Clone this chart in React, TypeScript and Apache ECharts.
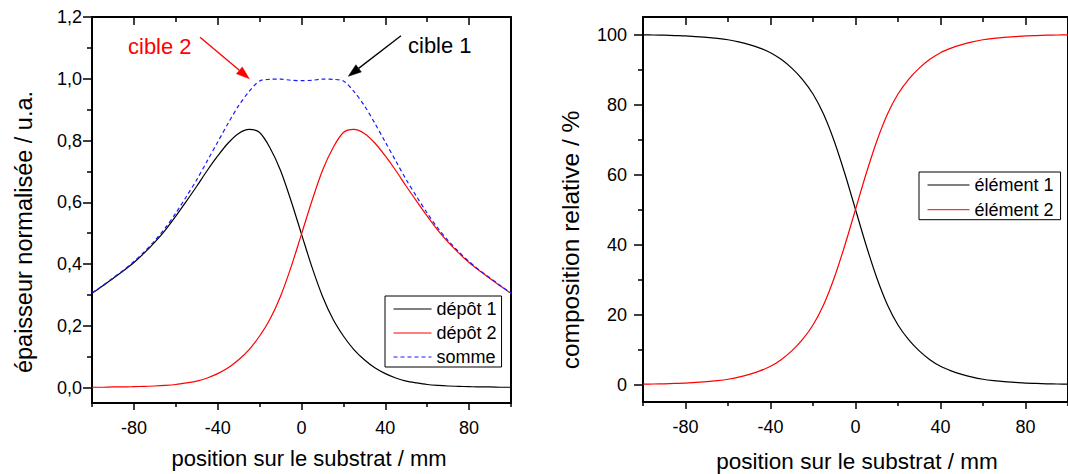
import React, { useEffect, useRef } from "react";
import * as echarts from "echarts";

// ---------- data ----------
const positions = [
  -100, -95, -90, -85, -80, -75, -70, -65, -60, -55, -50, -45, -40, -35, -30, -25, -20, -15, -10, -5,
  0, 5, 10, 15, 20, 25, 30, 35, 40, 45, 50, 55, 60, 65, 70, 75, 80, 85, 90, 95, 100,
];

const depot1 = [
  0.305, 0.329, 0.353, 0.378, 0.405, 0.436, 0.471, 0.51, 0.555, 0.603, 0.652, 0.703, 0.75, 0.792, 0.823, 0.836, 0.826, 0.776, 0.703, 0.605,
  0.497, 0.39, 0.296, 0.222, 0.167, 0.123, 0.09, 0.064, 0.045, 0.031, 0.021, 0.015, 0.01, 0.007, 0.005, 0.004, 0.003, 0.002, 0.002, 0.001, 0.001,
];

const depot2 = [
  0.001, 0.001, 0.002, 0.002, 0.003, 0.004, 0.005, 0.007, 0.01, 0.015, 0.021, 0.031, 0.045, 0.064, 0.09, 0.123, 0.167, 0.222, 0.296, 0.39,
  0.497, 0.605, 0.703, 0.776, 0.826, 0.836, 0.823, 0.792, 0.75, 0.703, 0.652, 0.603, 0.555, 0.51, 0.471, 0.436, 0.405, 0.378, 0.353, 0.329, 0.305,
];

const somme = [
  0.306, 0.33, 0.355, 0.38, 0.408, 0.44, 0.476, 0.517, 0.565, 0.618, 0.673, 0.734, 0.795, 0.856, 0.913, 0.959, 0.993, 0.998, 0.999, 0.995,
  0.994, 0.995, 0.999, 0.998, 0.993, 0.959, 0.913, 0.856, 0.795, 0.734, 0.673, 0.618, 0.565, 0.517, 0.476, 0.44, 0.408, 0.38, 0.355, 0.33, 0.306,
];

const element1 = [
  99.9, 99.85, 99.8, 99.7, 99.6, 99.4, 99.2, 98.9, 98.5, 97.9, 97.1, 96.1, 94.8, 92.9, 90.4, 87.2, 83.0, 77.2, 69.5, 60.2,
  50.0, 39.8, 30.5, 22.8, 17.0, 12.8, 9.6, 7.1, 5.2, 3.9, 2.9, 2.1, 1.5, 1.1, 0.8, 0.6, 0.4, 0.3, 0.2, 0.15, 0.1,
];

const element2 = [
  0.1, 0.15, 0.2, 0.3, 0.4, 0.6, 0.8, 1.1, 1.5, 2.1, 2.9, 3.9, 5.2, 7.1, 9.6, 12.8, 17.0, 22.8, 30.5, 39.8,
  50.0, 60.2, 69.5, 77.2, 83.0, 87.2, 90.4, 92.9, 94.8, 96.1, 97.1, 97.9, 98.5, 98.9, 99.2, 99.4, 99.6, 99.7, 99.8, 99.85, 99.9,
];

const xMajorTicks = [-80, -40, 0, 40, 80];
const xMinorTicks = [-100, -60, -20, 20, 60, 100];
const yLeftMajorTicks = [0, 0.2, 0.4, 0.6, 0.8, 1.0, 1.2];
const yLeftMinorTicks = [0.1, 0.3, 0.5, 0.7, 0.9, 1.1];
const yRightMajorTicks = [0, 20, 40, 60, 80, 100];
const yRightMinorTicks = [10, 30, 50, 70, 90];

const FONT = '"Liberation Sans", Arial, sans-serif';

function pairs(ys: number[]) {
  return positions.map((x, i) => [x, ys[i]]);
}

function arrow(x1: number, y1: number, x2: number, y2: number, color: string) {
  const dx = x2 - x1;
  const dy = y2 - y1;
  const len = Math.sqrt(dx * dx + dy * dy);
  const ux = dx / len;
  const uy = dy / len;
  const hl = 13;
  const hw = 4.5;
  const bx = x2 - ux * hl;
  const by = y2 - uy * hl;
  return [
    {
      type: "line",
      shape: { x1, y1, x2: bx, y2: by },
      style: { stroke: color, lineWidth: 1.3 },
      silent: true,
    },
    {
      type: "polygon",
      shape: {
        points: [
          [x2, y2],
          [bx - uy * hw, by + ux * hw],
          [bx + uy * hw, by - ux * hw],
        ],
      },
      style: { fill: color, stroke: color, lineWidth: 0.5 },
      silent: true,
    },
  ];
}

const frameLine = { show: true, onZero: false, lineStyle: { color: "#000", width: 2 } };
const noLine = { show: false, onZero: false };
const tickStyle = { color: "#000", width: 1.5 };

function xAxes(gridIndex: number) {
  return [
    {
      gridIndex, type: "value", position: "bottom", min: -100, max: 100,
      axisLine: frameLine,
      axisTick: { show: true, customValues: xMajorTicks, length: 7, lineStyle: tickStyle },
      axisLabel: { show: true, customValues: xMajorTicks, fontSize: 18, fontFamily: FONT, color: "#000", margin: 16 },
      splitLine: { show: false },
    },
    {
      gridIndex, type: "value", position: "bottom", min: -100, max: 100,
      axisLine: noLine,
      axisTick: { show: true, customValues: xMinorTicks, length: 4, lineStyle: tickStyle },
      axisLabel: { show: false },
      splitLine: { show: false },
    },
    {
      gridIndex, type: "value", position: "top", min: -100, max: 100,
      axisLine: frameLine,
      axisTick: { show: true, inside: true, customValues: xMajorTicks, length: 8, lineStyle: tickStyle },
      axisLabel: { show: false },
      splitLine: { show: false },
    },
    {
      gridIndex, type: "value", position: "top", min: -100, max: 100,
      axisLine: noLine,
      axisTick: { show: true, inside: true, customValues: xMinorTicks, length: 5, lineStyle: tickStyle },
      axisLabel: { show: false },
      splitLine: { show: false },
    },
  ];
}

function yAxes(gridIndex: number, min: number, max: number, major: number[], minor: number[], margin: number, fmt: (v: number) => string) {
  return [
    {
      gridIndex, type: "value", position: "left", min, max,
      axisLine: frameLine,
      axisTick: { show: true, customValues: major, length: 9, lineStyle: tickStyle },
      axisLabel: { show: true, customValues: major, fontSize: 18, fontFamily: FONT, color: "#000", margin, formatter: fmt },
      splitLine: { show: false },
    },
    {
      gridIndex, type: "value", position: "left", min, max,
      axisLine: noLine,
      axisTick: { show: true, customValues: minor, length: 5, lineStyle: tickStyle },
      axisLabel: { show: false },
      splitLine: { show: false },
    },
    {
      gridIndex, type: "value", position: "right", min, max,
      axisLine: frameLine,
      axisTick: { show: false },
      axisLabel: { show: false },
      splitLine: { show: false },
    },
  ];
}

export default function App() {
  const ref = useRef<HTMLDivElement>(null);

  useEffect(() => {
    if (!ref.current) return;
    const chart = echarts.init(ref.current, undefined, { renderer: "svg" });

    const lineSeries = (name: string, data: number[], color: string, xi: number, yi: number, type: any = "solid") => ({
      name,
      type: "line",
      xAxisIndex: xi,
      yAxisIndex: yi,
      data: pairs(data),
      smooth: 0.3,
      symbol: "none",
      showSymbol: false,
      lineStyle: { color, width: 1.2, type },
      itemStyle: { color },
      z: 3,
    });

    const legendText = { fontSize: 18, fontFamily: FONT, color: "#000", lineHeight: 20 };

    chart.setOption({
      animation: false,
      backgroundColor: "#fff",
      textStyle: { fontFamily: FONT },
      grid: [
        { left: 92, top: 17, width: 419, height: 386 },
        { left: 643, top: 17, width: 429, height: 385 },
      ],
      xAxis: [...xAxes(0), ...xAxes(1)],
      yAxis: [
        ...yAxes(0, -0.05, 1.2, yLeftMajorTicks, yLeftMinorTicks, 10, (v: number) => v.toFixed(1).replace(".", ",")),
        ...yAxes(1, -5, 105, yRightMajorTicks, yRightMinorTicks, 16, (v: number) => String(Math.round(v))),
      ],
      legend: [
        {
          data: ["dépôt 1", "dépôt 2", "somme"],
          orient: "vertical",
          left: 385,
          top: 296,
          itemWidth: 38,
          itemHeight: 14,
          itemGap: 4,
          padding: [3, 5, 0, 8],
          borderColor: "#000",
          borderWidth: 1,
          backgroundColor: "#fff",
          selectedMode: false,
          itemStyle: { opacity: 0 },
          lineStyle: { width: 1 },
          textStyle: legendText,
        },
        {
          data: ["élément 1", "élément 2"],
          orient: "vertical",
          left: 919,
          top: 172,
          itemWidth: 42,
          itemHeight: 14,
          itemGap: 4.7,
          padding: [3, 7, 0, 8],
          borderColor: "#000",
          borderWidth: 1,
          backgroundColor: "#fff",
          selectedMode: false,
          itemStyle: { opacity: 0 },
          lineStyle: { width: 1 },
          textStyle: legendText,
        },
      ],
      series: [
        lineSeries("dépôt 1", depot1, "#000000", 0, 0),
        lineSeries("dépôt 2", depot2, "#ff0000", 0, 0),
        lineSeries("somme", somme, "#1a1aff", 0, 0, [4, 3]),
        lineSeries("élément 1", element1, "#000000", 4, 3),
        lineSeries("élément 2", element2, "#ff0000", 4, 3),
      ],
      graphic: [
        {
          type: "text", x: 309, y: 458, silent: true,
          style: { text: "position sur le substrat / mm", fontSize: 22, fontFamily: FONT, fill: "#000", align: "center", verticalAlign: "middle" },
        },
        {
          type: "text", x: 857, y: 461.5, silent: true,
          style: { text: "position sur le substrat / mm", fontSize: 22.5, fontFamily: FONT, fill: "#000", align: "center", verticalAlign: "middle" },
        },
        {
          type: "text", x: 24, y: 232, rotation: Math.PI / 2, silent: true,
          style: { text: "épaisseur normalisée / u.a.", fontSize: 23.5, fontFamily: FONT, fill: "#000", align: "center", verticalAlign: "middle" },
        },
        {
          type: "text", x: 570, y: 240, rotation: Math.PI / 2, silent: true,
          style: { text: "composition relative / %", fontSize: 24.5, fontFamily: FONT, fill: "#000", align: "center", verticalAlign: "middle" },
        },
        {
          type: "text", x: 128, y: 46, silent: true,
          style: { text: "cible 2", fontSize: 22, fontFamily: FONT, fill: "#ff0000", align: "left", verticalAlign: "middle" },
        },
        {
          type: "text", x: 408, y: 45.5, silent: true,
          style: { text: "cible 1", fontSize: 22, fontFamily: FONT, fill: "#000", align: "left", verticalAlign: "middle" },
        },
        ...arrow(200, 37.3, 249.3, 78.7, "#ff0000"),
        ...arrow(401, 35.7, 348.3, 76.3, "#000000"),
      ],
    });

    return () => chart.dispose();
  }, []);

  return (
    <div
      ref={ref}
      style={{ position: "absolute", left: 0, top: 0, width: 1068, height: 474, background: "#fff" }}
    />
  );
}
